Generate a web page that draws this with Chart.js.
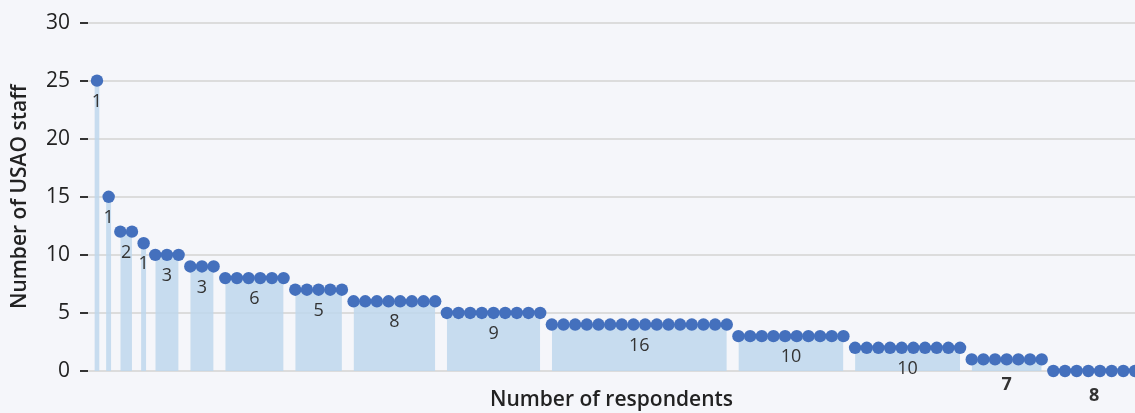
<!DOCTYPE html>
<html><head><meta charset="utf-8">
<script src="https://cdn.jsdelivr.net/npm/chart.js@4/dist/chart.umd.min.js"></script>
<style>html,body{margin:0;padding:0;background:#f5f6fa;}#wrap{width:1135px;height:413px;}</style>
</head><body><div id="wrap"><canvas id="c" width="1135" height="413"></canvas></div>
<script>
// Groups of respondents: staff count value and number of respondents with that value
const groupValues = [25, 15, 12, 11, 10, 9, 8, 7, 6, 5, 4, 3, 2, 1, 0];
const groupCounts = [1, 1, 2, 1, 3, 3, 6, 5, 8, 9, 16, 10, 10, 7, 8];
const yTicks = [0, 5, 10, 15, 20, 25, 30];
const yTitle = 'Number of USAO staff';
const xTitle = 'Number of respondents';

const FONT = '"Open Sans", Lato, sans-serif';
const dotColor = '#4470bd';
const barColor = 'rgba(190,215,236,0.85)';

// expand groups to individual respondents
const points = [];
const groups = [];
let idx = 0;
groupValues.forEach((v, g) => {
  const start = idx;
  for (let k = 0; k < groupCounts[g]; k++) { points.push({x: idx, y: v}); idx++; }
  groups.push({start: start, end: idx - 1, value: v, count: groupCounts[g]});
});

const datasets = [];
groups.forEach(gr => {
  const half = gr.start === gr.end ? 0.22 : 0;
  datasets.push({
    type: 'line',
    data: [{x: gr.start - half, y: gr.value}, {x: gr.end + half, y: gr.value}],
    fill: 'origin', backgroundColor: barColor, borderWidth: 0, pointRadius: 0,
    order: 2
  });
});
datasets.push({
  type: 'line', data: points, showLine: false, pointRadius: 6.2, pointHoverRadius: 6.2,
  pointBackgroundColor: dotColor, pointBorderWidth: 0, clip: false, order: 1
});

const labelPlugin = {
  id: 'grpLabels',
  afterDatasetsDraw(chart) {
    const ctx = chart.ctx, xs = chart.scales.x, ys = chart.scales.y;
    ctx.save();
    ctx.textAlign = 'center'; ctx.textBaseline = 'middle'; ctx.fillStyle = '#333';
    groups.forEach(gr => {
      const cx = xs.getPixelForValue((gr.start + gr.end) / 2);
      const py = ys.getPixelForValue(gr.value);
      const outside = gr.value < 2;
      ctx.font = (outside ? '700 ' : '') + '18px ' + FONT;
      ctx.fillText(String(gr.count), cx, py + (outside ? 25 : 21));
    });
    ctx.restore();
  }
};
const bgPlugin = {
  id: 'bg',
  beforeDraw(chart) { const c = chart.ctx; c.save(); c.fillStyle = '#f5f6fa'; c.fillRect(0,0,chart.width,chart.height); c.restore(); }
};

new Chart(document.getElementById('c'), {
  type: 'line',
  data: { datasets: datasets },
  plugins: [bgPlugin, labelPlugin],
  options: {
    responsive: false, animation: false, events: [],
    layout: { autoPadding: false, padding: { top: 21, right: 0, left: 0, bottom: 0 } },
    plugins: { legend: { display: false }, tooltip: { enabled: false } },
    scales: {
      x: {
        type: 'linear', min: -0.77, max: 89,
        grid: { display: false }, border: { display: false },
        ticks: { display: false },
        title: { display: true, text: xTitle, color: '#222', font: { family: FONT, size: 21, weight: '600' }, padding: { top: 0, bottom: 0 } },
        afterFit(s) { s.height = 42; }
      },
      y: {
        min: 0, max: 30,
        afterBuildTicks(s) { s.ticks = yTicks.map(v => ({value: v})); },
        grid: { color: '#dcdcdc', lineWidth: 2, tickColor: '#333', tickLength: 8, tickWidth: 2 },
        border: { display: false },
        ticks: { color: '#222', padding: 10, font: { family: FONT, size: 21 } },
        title: { display: true, text: yTitle, color: '#222', font: { family: FONT, size: 21, weight: '600' }, padding: { top: 7, bottom: 0 } },
        afterFit(s) { s.width = 88; }
      }
    }
  }
});
</script></body></html>
